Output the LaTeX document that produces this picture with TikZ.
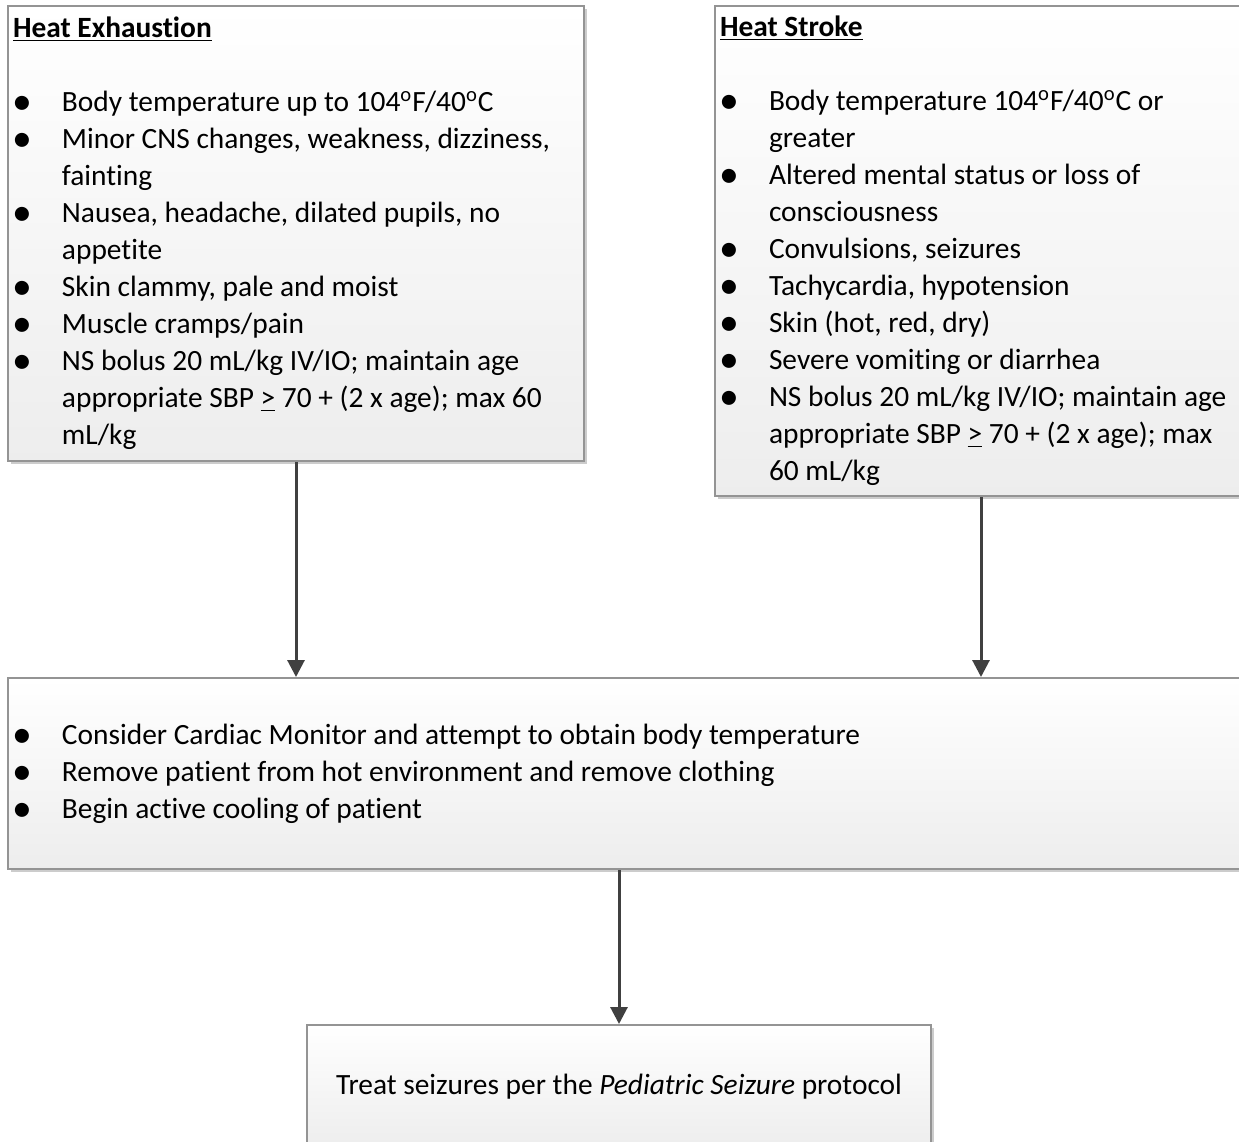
\documentclass[tikz,border=0pt]{standalone}
\usepackage{fontspec}
\setmainfont{Carlito}[Ligatures=CommonOff]
\usetikzlibrary{arrows.meta,positioning,shadows}
\newcommand{\bitem}[1]{\noindent\hangindent=24.5pt\hangafter=1\makebox[24.5pt][l]{\hspace{-0.3pt}\raisebox{-1.6pt}{\scalebox{1.35}{\textbullet}}}#1\par}
\newcommand{\degr}{\textsuperscript{o}}

\begin{document}
\begin{tikzpicture}[x=0.5pt,y=-0.5pt,>={Triangle[length=8.5pt,width=8.5pt]},
box/.style={draw=black!42,line width=1pt,top color=white,bottom color=black!7,
  drop shadow={shadow xshift=1.5pt,shadow yshift=-1.5pt,fill=black!20,opacity=1},
  anchor=north west,align=flush left,inner xsep=2.5pt,inner ysep=0pt,
  font=\fontsize{14.7pt}{18.5pt}\selectfont},
flow/.style={->,line width=1.5pt,draw=black!75}]
\path[use as bounding box,clip] (0,0) rectangle (1239,1142);
\node[box,text width=283pt,minimum height=227.5pt] (exhaustion) at (7,5)
{\underline{\textbf{Heat Exhaustion}}\par\mbox{}\par
\bitem{Body temperature up to 104\degr F/40\degr C}
\bitem{Minor CNS changes, weakness, dizziness,\newline fainting}
\bitem{Nausea, headache, dilated pupils, no\newline appetite}
\bitem{Skin clammy, pale and moist}
\bitem{Muscle cramps/pain}
\bitem{NS bolus 20 mL/kg IV/IO; maintain age\newline appropriate SBP \underline{>} 70 + (2 x age); max 60\newline mL/kg}};
\node[box,text width=261pt,minimum height=245pt] (stroke) at (714,5)
{\underline{\textbf{Heat Stroke}}\par\mbox{}\par
\bitem{Body temperature 104\degr F/40\degr C or\newline greater}
\bitem{Altered mental status or loss of\newline consciousness}
\bitem{Convulsions, seizures}
\bitem{Tachycardia, hypotension}
\bitem{Skin (hot, red, dry)}
\bitem{Severe vomiting or diarrhea}
\bitem{NS bolus 20 mL/kg IV/IO; maintain age\newline appropriate SBP \underline{>} 70 + (2 x age); max\newline 60 mL/kg}};
\node[box,text width=614.5pt,minimum height=95.5pt] (cooling) at (7,677)
{\bitem{Consider Cardiac Monitor and attempt to obtain body temperature}
\bitem{Remove patient from hot environment and remove clothing}
\bitem{Begin active cooling of patient}};
\node[box,align=flush center,text width=307pt,minimum height=62pt] (seizure) at (306,1024)
{Treat seizures per the \textit{Pediatric Seizure} protocol};
\draw[flow] (exhaustion) -- (exhaustion |- cooling.north);
\draw[flow] (stroke) -- (stroke |- cooling.north);
\draw[flow] (cooling.south -| seizure.north) -- (seizure);
\end{tikzpicture}
\end{document}
